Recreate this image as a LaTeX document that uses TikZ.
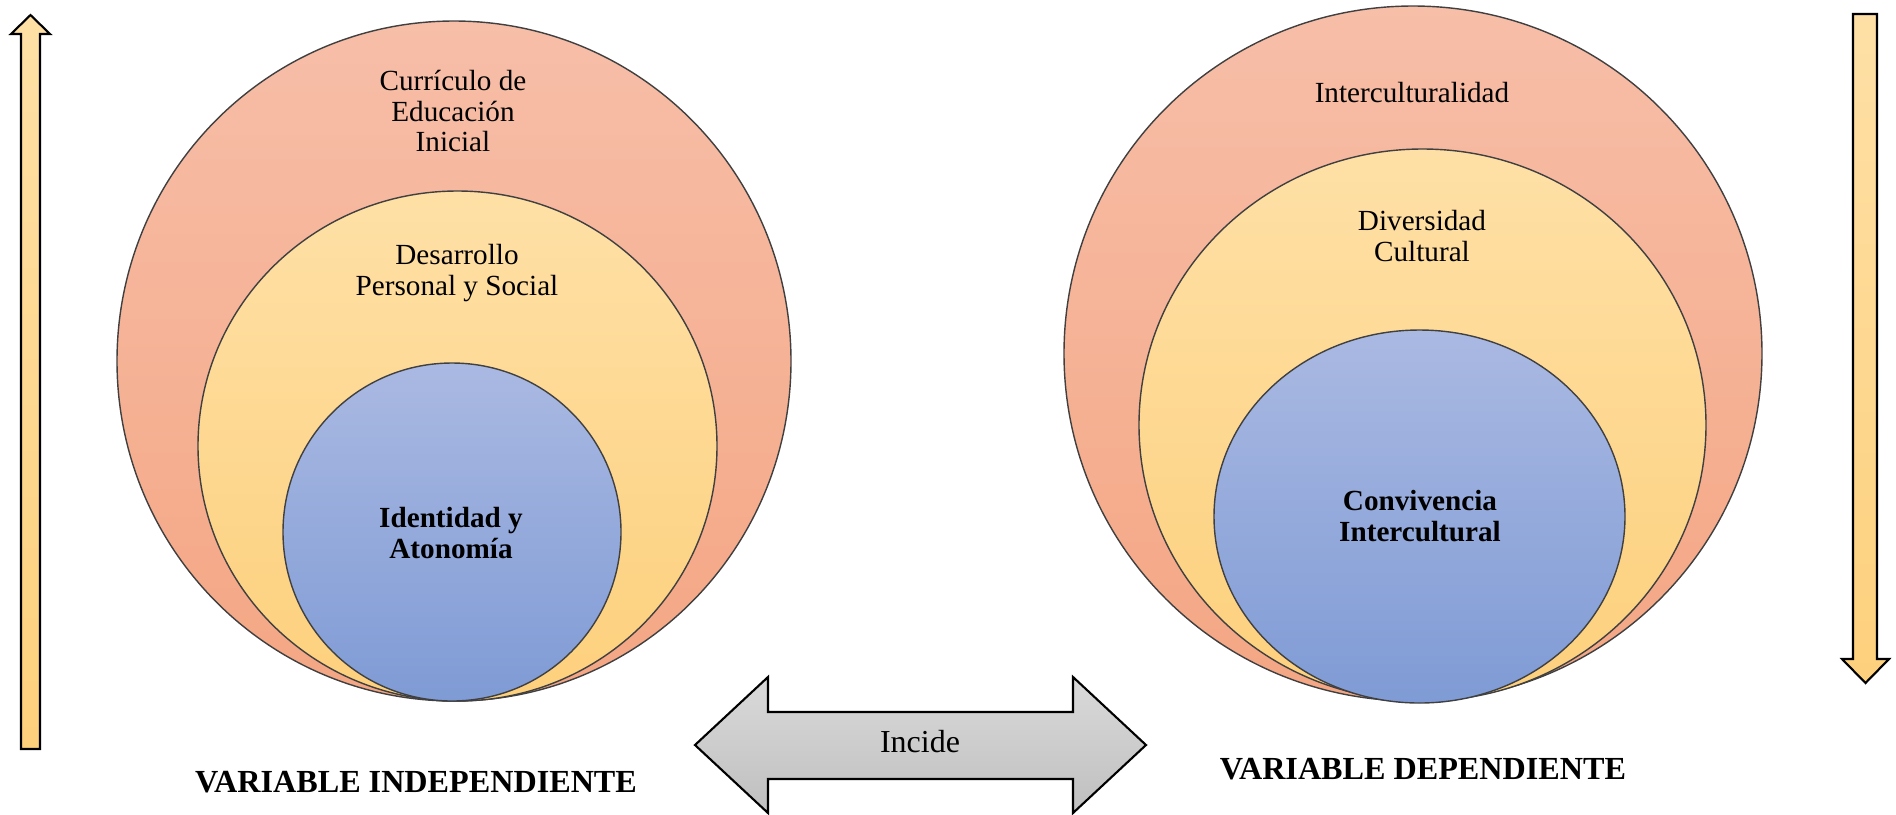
\documentclass[tikz,border=0pt]{standalone}
\usepackage{fontspec}
\setmainfont{Liberation Serif}
\usetikzlibrary{calc}

\definecolor{salmonTop}{HTML}{F7BEA8}
\definecolor{salmonBot}{HTML}{F4A683}
\definecolor{sandTop}{HTML}{FEE0A6}
\definecolor{sandBot}{HTML}{FDD07C}
\definecolor{skyTop}{HTML}{AAB9E2}
\definecolor{skyBot}{HTML}{7F9BD5}
\definecolor{greyTop}{HTML}{DADADA}
\definecolor{greyBot}{HTML}{BFBFBF}

\begin{document}
\begin{tikzpicture}[x=0.01cm, y=-0.01cm,
		ring/.style={draw=black!75, line width=0.4pt},
		outerring/.style={ring, top color=salmonTop, bottom color=salmonBot},
		midring/.style={ring, top color=sandTop, bottom color=sandBot},
		innerring/.style={ring, top color=skyTop, bottom color=skyBot},
		bigarrow/.style={draw=black, line width=0.6pt, line join=miter},
		label/.style={align=center, font=\fontsize{8.3}{8.8}\selectfont, inner sep=0pt},
		title/.style={font=\fontsize{9.15}{10}\selectfont\bfseries, inner sep=0pt}]
			%%%%% START %%%%%
			\useasboundingbox (0, 0) rectangle (1896, 814);
			
			% left side
			\draw[outerring] (454, 361) ellipse [x radius=337, y radius=340];
			\draw[midring] (457.5, 446) ellipse [x radius=259.5, y radius=255];
			\draw[innerring] (452, 532) circle (169);
			
			\node[label] (curriculo) at (453, 111) {Currículo de\\Educación\\Inicial};
			\node[label] (desarrollo) at (457, 273) {Desarrollo\\Personal y Social};
			\node[label, font=\fontsize{8.3}{8.8}\selectfont\bfseries] (identidad) at (451, 533) {Identidad y\\Atonomía};
			
			% right side
			\draw[outerring] (1413, 353.5) ellipse [x radius=349, y radius=347.5];
			\draw[midring] (1422.5, 425) ellipse [x radius=283.5, y radius=276];
			\draw[innerring] (1419.5, 516.5) ellipse [x radius=205.5, y radius=186.5];
			
			\node[label] (intercult) at (1412, 93) {Interculturalidad};
			\node[label] (diversidad) at (1422, 236) {Diversidad\\Cultural};
			\node[label, font=\fontsize{8.3}{8.8}\selectfont\bfseries] (convivencia) at (1420, 516) {Convivencia\\Intercultural};
			
			% side arrows
			\draw[bigarrow, top color=sandTop, bottom color=sandBot]
				(21, 749) -- (21, 34) -- (11, 34) -- (30.5, 15) -- (50, 34) -- (40, 34) -- (40, 749) -- cycle;
			\draw[bigarrow, top color=sandTop, bottom color=sandBot]
				(1853, 14) -- (1877, 14) -- (1877, 659) -- (1889, 659) -- (1865.5, 683) -- (1842, 659) -- (1853, 659) -- cycle;
			
			% double arrow
			\draw[bigarrow, top color=greyTop, bottom color=greyBot]
				(695, 745) -- (768, 677) -- (768, 712) -- (1073, 712) -- (1073, 677) -- (1146, 745)
				-- (1073, 813) -- (1073, 779) -- (768, 779) -- (768, 813) -- cycle;
			\node[label, font=\fontsize{9.1}{10}\selectfont] (incide) at (920, 742) {Incide};
			
			\node[title] (indep) at (416, 782) {VARIABLE INDEPENDIENTE};
			\node[title] (dep) at (1423, 769) {VARIABLE DEPENDIENTE};
			%%%%% END %%%%%
\end{tikzpicture}
\end{document}
